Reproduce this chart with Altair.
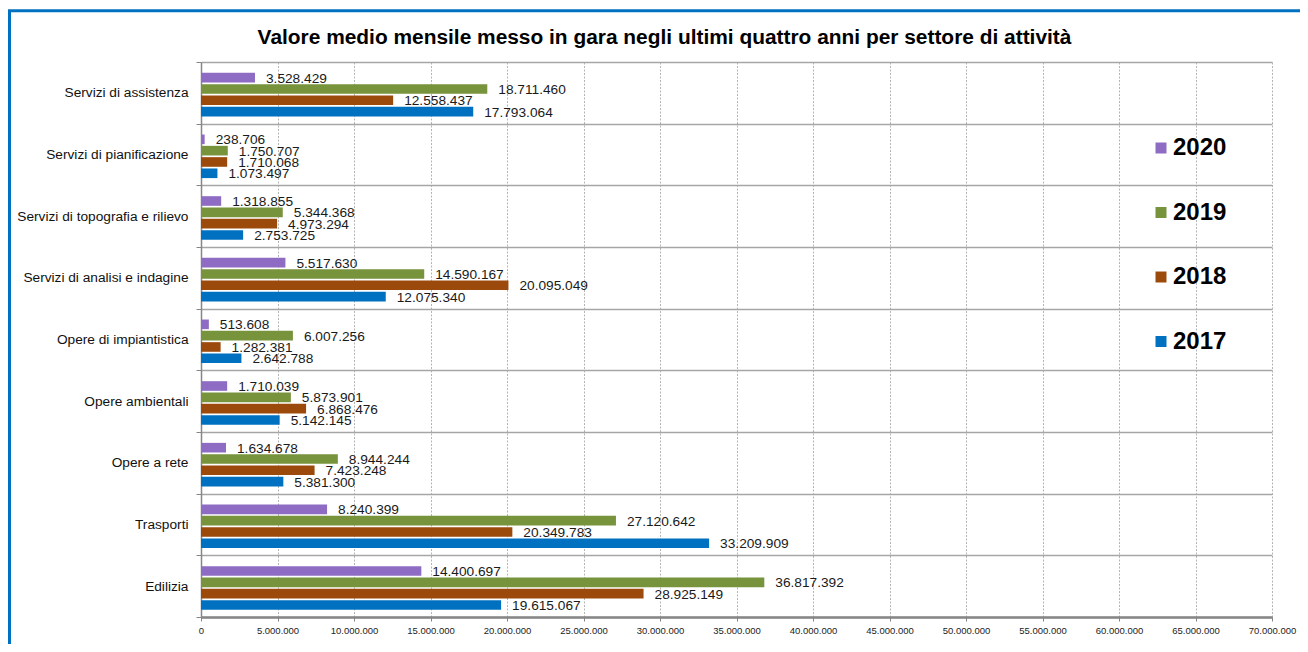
import altair as alt
import pandas as pd

categories = [
    "Servizi di assistenza",
    "Servizi di pianificazione",
    "Servizi di topografia e rilievo",
    "Servizi di analisi e indagine",
    "Opere di impiantistica",
    "Opere ambientali",
    "Opere a rete",
    "Trasporti",
    "Edilizia",
]
years = ["2020", "2019", "2018", "2017"]
v2020 = [3528429, 238706, 1318855, 5517630, 513608, 1710039, 1634678, 8240399, 14400697]
v2019 = [18711460, 1750707, 5344368, 14590167, 6007256, 5873901, 8944244, 27120642, 36817392]
v2018 = [12558437, 1710068, 4973294, 20095049, 1282381, 6868476, 7423248, 20349783, 28925149]
v2017 = [17793064, 1073497, 2753725, 12075340, 2642788, 5142145, 5381300, 33209909, 19615067]
colors = ["#8E6CC3", "#77933C", "#9C4A0C", "#0070C0"]
x_ticks = [0, 5000000, 10000000, 15000000, 20000000, 25000000, 30000000,
           35000000, 40000000, 45000000, 50000000, 55000000, 60000000,
           65000000, 70000000]

rows = []
for i, c in enumerate(categories):
    for y, vals in zip(years, [v2020, v2019, v2018, v2017]):
        rows.append({"cat": c, "year": y, "value": vals[i],
                     "label": f"{vals[i]:,}".replace(",", ".")})
df = pd.DataFrame(rows)

FONT = "Liberation Sans"
W, H = 1071, 555

base = alt.Chart(df).encode(
    y=alt.Y("cat:N", sort=categories,
            scale=alt.Scale(paddingInner=0, paddingOuter=0),
            axis=alt.Axis(title=None, tickBand="extent", grid=True,
                          gridColor="#A6A6A6", gridWidth=1.5,
                          domainColor="#868686", domainWidth=1.5,
                          tickColor="#868686", tickSize=5, labelPadding=8,
                          labelFont=FONT, labelFontSize=13.7, labelColor="#111111",
                          labelLimit=400)),
    yOffset=alt.YOffset("year:N", sort=years,
                        scale=alt.Scale(paddingInner=0.15, paddingOuter=0.8, align=0.6)),
    x=alt.X("value:Q", scale=alt.Scale(domain=[0, 70000000], nice=False),
            axis=alt.Axis(title=None, values=x_ticks,
                          labelExpr="replace(format(datum.value, ','), regexp(',', 'g'), '.')",
                          grid=True, gridDash=[2, 1.5], gridColor="#B4B4B4", gridWidth=1,
                          domainColor="#868686", domainWidth=2.5,
                          tickColor="#868686", tickSize=4, labelPadding=4,
                          labelFont=FONT, labelFontSize=9.5, labelColor="#222222",
                          labelFlush=False, labelOverlap=False)),
)

bars = base.mark_bar().encode(
    color=alt.Color("year:N", scale=alt.Scale(domain=years, range=colors),
                    legend=alt.Legend(title=None, orient="none", legendX=948, legendY=74,
                                      symbolType="square", symbolSize=121,
                                      symbolStrokeWidth=0, labelFont=FONT,
                                      labelFontSize=24, labelFontWeight="bold",
                                      labelColor="#000000", rowPadding=40.5,
                                      labelOffset=0)),
)

text = base.mark_text(align="left", baseline="middle", dx=11, dy=1,
                      font=FONT, fontSize=13.7, color="#1a1a1a").encode(text="label:N")

frame = alt.Chart(alt.Data(values=[{"a": 1}])).mark_rect(
    filled=False, stroke="#0070C0", strokeWidth=3
).encode(x=alt.value(-191.5), x2=alt.value(3000), y=alt.value(-51.3), y2=alt.value(3000))

chart = alt.layer(frame, bars, text).properties(
    width=W, height=H,
    padding={"left": 193, "top": 54, "right": 28, "bottom": 27},
    autosize=alt.AutoSizeParams(type="none"),
    background="white",
    title=alt.TitleParams(
        "Valore medio mensile messo in gara negli ultimi quattro anni per settore di attività",
        font=FONT, fontSize=20.9, fontWeight="bold", color="#000000",
        anchor="middle", frame="group", dx=-72, dy=51, offset=12),
).configure_view(stroke=None)

chart.save("out.html", embed_options={"renderer": "svg", "actions": False})
